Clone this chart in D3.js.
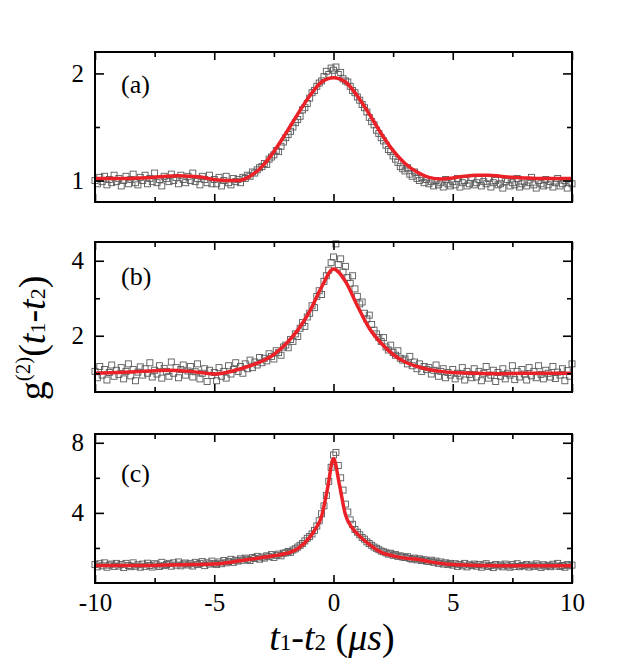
<!DOCTYPE html>
<html>
	<head>
		<meta charset="utf-8" />
		<script src="https://cdn.jsdelivr.net/npm/d3@7/dist/d3.min.js"></script>
		<title>g2</title>
		<style>
			body { margin: 0; background: #fff; }
			text { font-family: "Liberation Serif", "Times New Roman", serif; }
		</style>
	</head>
	<body>
<script>
// delay grid in us, one sample every 0.1 us
var tGrid = d3.range(-100, 101).map(function(i) { return i / 10; });

var dataA = [
	1.00, 0.97, 1.03, 0.99, 1.04, 0.96, 1.01, 0.98, 1.05, 0.99,
	1.02, 0.95, 1.00, 1.04, 0.97, 1.01, 1.06, 0.98, 0.96, 1.03,
	1.00, 1.05, 0.97, 1.02, 0.99, 1.07, 0.98, 1.01, 0.95, 1.04,
	1.02, 0.99, 1.06, 1.00, 1.03, 0.97, 1.05, 1.01, 0.98, 1.04,
	1.00, 1.07, 0.99, 1.02, 0.96, 1.04, 1.01, 0.98, 1.05, 0.97,
	1.01, 0.97, 1.03, 0.95, 1.00, 1.04, 0.98, 0.96, 1.02, 0.99,
	1.01, 0.98, 1.03, 1.02, 1.05, 1.04, 1.08, 1.07, 1.10, 1.12,
	1.13, 1.16, 1.15, 1.20, 1.22, 1.24, 1.28, 1.27, 1.32, 1.36,
	1.40, 1.43, 1.46, 1.50, 1.54, 1.57, 1.60, 1.66, 1.68, 1.72,
	1.77, 1.82, 1.84, 1.88, 1.91, 1.93, 1.97, 2.02, 1.99, 2.05,
	2.03, 2.06, 1.99, 2.01, 1.95, 1.93, 1.92, 1.88, 1.84, 1.82,
	1.78, 1.75, 1.71, 1.68, 1.64, 1.59, 1.55, 1.52, 1.47, 1.44,
	1.40, 1.37, 1.33, 1.29, 1.27, 1.23, 1.20, 1.17, 1.13, 1.11,
	1.09, 1.12, 1.06, 1.04, 1.08, 1.02, 1.00, 1.03, 0.98, 1.01,
	0.97, 0.99, 0.95, 1.00, 0.96, 0.98, 0.94, 1.01, 0.97, 0.95,
	0.99, 0.96, 1.02, 0.94, 0.98, 1.00, 0.95, 0.97, 1.03, 0.96,
	0.98, 1.01, 0.95, 0.99, 0.97, 1.02, 0.94, 0.98, 1.00, 0.96,
	0.97, 0.93, 0.99, 1.01, 0.95, 0.98, 0.96, 1.02, 0.94, 0.97,
	0.99, 0.95, 0.98, 1.03, 0.96, 0.93, 1.00, 0.97, 0.95, 1.01,
	0.96, 0.99, 0.94, 0.98, 1.02, 0.95, 0.97, 1.00, 0.93, 0.98,
	0.97
];

var dataB = [
	1.05, 0.88, 1.18, 0.95, 1.10, 0.82, 1.02, 1.22, 0.92, 1.08,
	0.97, 1.15, 0.85, 1.05, 1.25, 0.93, 1.10, 0.80, 1.03, 1.17,
	0.95, 1.12, 1.00, 1.28, 0.90, 1.08, 0.98, 1.20, 0.87, 1.13,
	1.05, 0.92, 1.30, 1.00, 1.15, 0.88, 1.10, 1.22, 0.95, 1.06,
	1.18, 0.90, 1.04, 1.25, 0.85, 1.00, 1.12, 0.78, 1.08, 0.94,
	1.02, 0.80, 1.15, 0.92, 1.05, 0.87, 1.20, 0.98, 1.10, 1.28,
	1.05, 1.18, 1.00, 1.25, 1.12, 1.35, 1.15, 1.30, 1.22, 1.42,
	1.28, 1.40, 1.33, 1.52, 1.45, 1.38, 1.60, 1.55, 1.48, 1.70,
	1.75, 1.68, 1.90, 1.85, 2.05, 1.98, 2.20, 2.35, 2.25, 2.50,
	2.60, 2.80, 2.75, 3.05, 3.20, 3.10, 3.45, 3.60, 3.75, 3.95,
	4.10, 4.45, 3.90, 4.05, 3.70, 3.85, 3.55, 3.40, 3.60, 3.25,
	3.05, 2.85, 2.90, 2.60, 2.45, 2.55, 2.30, 2.15, 2.05, 1.95,
	1.85, 1.95, 1.70, 1.62, 1.75, 1.55, 1.48, 1.60, 1.40, 1.35,
	1.38, 1.25, 1.45, 1.20, 1.30, 1.12, 1.25, 1.05, 1.18, 1.10,
	1.15, 0.98, 1.08, 1.22, 0.92, 1.05, 1.12, 0.88, 1.02, 0.95,
	1.10, 0.85, 1.00, 0.93, 1.15, 0.82, 1.05, 0.97, 0.88, 1.12,
	0.90, 1.05, 0.80, 1.00, 1.18, 0.87, 0.95, 1.08, 0.78, 1.02,
	0.92, 1.12, 0.85, 1.00, 0.95, 1.20, 0.83, 1.05, 0.90, 1.10,
	0.98, 0.82, 1.15, 0.93, 1.05, 0.88, 1.20, 0.97, 0.85, 1.08,
	1.00, 0.90, 1.18, 0.86, 1.03, 0.95, 1.12, 0.80, 1.07, 0.92,
	1.25
];

var dataC = [
	1.05, 0.92, 1.10, 0.98, 1.15, 0.90, 1.02, 1.08, 0.95, 1.12,
	0.97, 1.06, 0.88, 1.12, 1.00, 0.93, 1.15, 0.96, 1.04, 0.90,
	1.08, 0.95, 1.13, 1.00, 0.91, 1.10, 1.03, 0.94, 1.18, 0.99,
	1.05, 1.12, 0.96, 1.15, 1.02, 1.20, 0.98, 1.08, 1.14, 1.03,
	1.10, 0.97, 1.18, 1.05, 1.12, 1.22, 0.99, 1.15, 1.08, 1.25,
	1.12, 1.05, 1.20, 1.10, 1.28, 1.15, 1.22, 1.35, 1.18, 1.30,
	1.25, 1.38, 1.30, 1.42, 1.35, 1.28, 1.45, 1.40, 1.52, 1.36,
	1.48, 1.42, 1.55, 1.50, 1.62, 1.46, 1.58, 1.65, 1.55, 1.70,
	1.72, 1.80, 1.75, 1.88, 1.95, 2.05, 2.15, 2.25, 2.40, 2.55,
	2.65, 2.80, 3.00, 3.25, 3.55, 3.95, 4.40, 5.00, 5.80, 6.60,
	7.30, 7.45, 6.70, 6.00, 5.30, 4.50, 4.05, 3.60, 3.35, 3.05,
	2.90, 2.75, 2.60, 2.50, 2.35, 2.25, 2.15, 2.05, 1.98, 1.90,
	1.82, 1.78, 1.72, 1.65, 1.70, 1.58, 1.62, 1.52, 1.55, 1.48,
	1.45, 1.50, 1.40, 1.36, 1.42, 1.32, 1.38, 1.28, 1.33, 1.25,
	1.22, 1.30, 1.18, 1.25, 1.12, 1.20, 1.08, 1.15, 1.05, 1.12,
	1.02, 1.10, 0.95, 1.06, 0.98, 1.12, 0.92, 1.04, 0.99, 1.08,
	0.96, 1.05, 0.90, 1.02, 1.10, 0.94, 1.00, 0.88, 1.06, 0.97,
	1.03, 0.92, 1.08, 0.98, 0.90, 1.05, 0.95, 1.10, 0.93, 1.00,
	0.97, 1.06, 0.91, 1.02, 0.95, 1.09, 0.98, 0.89, 1.04, 0.96,
	1.01, 0.93, 1.07, 0.97, 1.12, 0.94, 1.00, 0.90, 1.05, 0.98,
	1.02
];

// fitted curves
var fitTA = [-10, -9.5, -9, -8.5, -8, -7.5, -7, -6.5, -6, -5.5, -5, -4.5, -4, -3.5, -3, -2.5, -2, -1.5, -1, -0.5, 0,
	0.5, 1, 1.5, 2, 2.5, 3, 3.5, 4, 4.5, 5, 5.5, 6, 6.5, 7, 7.5, 8, 8.5, 9, 9.5, 10];
var fitA = [1.02, 1.02, 1.02, 1.02, 1.025, 1.03, 1.04, 1.045, 1.04, 1.03, 1.01, 1.0, 1.0, 1.04, 1.13, 1.27, 1.44, 1.62, 1.79, 1.92, 1.96,
	1.92, 1.79, 1.62, 1.44, 1.28, 1.16, 1.08, 1.03, 1.015, 1.025, 1.04, 1.05, 1.05, 1.04, 1.03, 1.025, 1.02, 1.02, 1.02, 1.02];

var fitTB = [-10, -9, -8, -7, -6, -5, -4.5, -4, -3.5, -3, -2.5, -2, -1.5, -1, -0.5, 0,
	0.5, 1, 1.5, 2, 2.5, 3, 3.5, 4, 4.5, 5, 6, 7, 8, 9, 10];
var fitB = [1.0, 1.02, 1.05, 1.08, 1.05, 0.98, 1.02, 1.1, 1.2, 1.32, 1.5, 1.78, 2.15, 2.65, 3.3, 3.78,
	3.45, 2.8, 2.2, 1.8, 1.5, 1.3, 1.18, 1.1, 1.05, 1.02, 1.0, 0.99, 1.0, 1.0, 1.0];

var fitTC = [-10, -9, -8, -7, -6, -5, -4.5, -4, -3.5, -3, -2.5, -2, -1.5, -1, -0.75, -0.5, -0.25, 0,
	0.25, 0.5, 0.75, 1, 1.5, 2, 2.5, 3, 3.5, 4, 4.5, 5, 6, 7, 8, 9, 10];
var fitC = [1.0, 1.0, 1.0, 1.02, 1.05, 1.08, 1.15, 1.25, 1.35, 1.45, 1.55, 1.68, 1.95, 2.6, 3.1, 3.8, 5.4, 7.1,
	5.6, 3.9, 3.2, 2.8, 2.2, 1.75, 1.55, 1.42, 1.35, 1.22, 1.12, 1.05, 1.0, 0.99, 0.99, 0.99, 0.99];

var xTicks = [-10, -5, 0, 5, 10];
var xMinor = [-7.5, -2.5, 2.5, 7.5];

var panels = [
	{ label: "(a)", data: dataA, fitT: fitTA, fit: fitA, domain: [0.8, 2.2], top: 52, bottom: 202, ticks: [1, 2], minor: [1.5] },
	{ label: "(b)", data: dataB, fitT: fitTB, fit: fitB, domain: [0.5, 4.5], top: 242, bottom: 392, ticks: [2, 4], minor: [1, 3] },
	{ label: "(c)", data: dataC, fitT: fitTC, fit: fitC, domain: [0, 8.5], top: 434, bottom: 583, ticks: [4, 8], minor: [2, 6] }
];

var w = 642, h = 665;
var left = 95, right = 572;
var plain = function(d) { return String(d); };

var svg = d3.select("body").append("svg")
	.attr("width", w)
	.attr("height", h);

var x = d3.scaleLinear().domain([-10, 10]).range([left, right]);

panels.forEach(function(p, i) {
	var y = d3.scaleLinear().domain(p.domain).range([p.bottom, p.top]);
	var g = svg.append("g");

	// open square markers
	g.selectAll("rect.pt")
		.data(p.data)
		.enter().append("rect")
		.attr("class", "pt")
		.attr("x", function(d, j) { return x(tGrid[j]) - 3; })
		.attr("y", function(d) { return y(d) - 3; })
		.attr("width", 6)
		.attr("height", 6)
		.attr("fill", "none")
		.attr("stroke", "#5a5a5a")
		.attr("stroke-width", 0.9);

	var line = d3.line()
		.x(function(d, j) { return x(p.fitT[j]); })
		.y(function(d) { return y(d); })
		.curve(d3.curveMonotoneX);

	g.append("path")
		.datum(p.fit)
		.attr("d", line)
		.attr("fill", "none")
		.attr("stroke", "#ec2027")
		.attr("stroke-width", 3.5);

	// axes, ticks pointing inward on all four sides
	var bottomMajor = d3.axisBottom(x).tickValues(xTicks).tickSizeInner(-8).tickSizeOuter(0).tickPadding(10)
		.tickFormat(i == 2 ? plain : "");
	var bottomMinor = d3.axisBottom(x).tickValues(xMinor).tickSizeInner(-5).tickSizeOuter(0).tickFormat("");
	var topMajor = d3.axisTop(x).tickValues(xTicks).tickSizeInner(-8).tickSizeOuter(0).tickFormat("");
	var topMinor = d3.axisTop(x).tickValues(xMinor).tickSizeInner(-5).tickSizeOuter(0).tickFormat("");
	var leftMajor = d3.axisLeft(y).tickValues(p.ticks).tickSizeInner(-9).tickSizeOuter(0).tickPadding(11).tickFormat(plain);
	var leftMinor = d3.axisLeft(y).tickValues(p.minor).tickSizeInner(-5).tickSizeOuter(0).tickFormat("");
	var rightMajor = d3.axisRight(y).tickValues(p.ticks).tickSizeInner(-9).tickSizeOuter(0).tickFormat("");
	var rightMinor = d3.axisRight(y).tickValues(p.minor).tickSizeInner(-5).tickSizeOuter(0).tickFormat("");

	var ax = [
		[bottomMajor, "translate(0," + p.bottom + ")"],
		[bottomMinor, "translate(0," + p.bottom + ")"],
		[topMajor, "translate(0," + p.top + ")"],
		[topMinor, "translate(0," + p.top + ")"],
		[leftMajor, "translate(" + left + ",0)"],
		[leftMinor, "translate(" + left + ",0)"],
		[rightMajor, "translate(" + right + ",0)"],
		[rightMinor, "translate(" + right + ",0)"]
	];
	ax.forEach(function(a) {
		var ga = svg.append("g").attr("transform", a[1]).call(a[0]);
		ga.select(".domain").remove();
		ga.selectAll("line").attr("stroke", "#000").attr("stroke-width", 1.6);
		ga.selectAll("text")
			.attr("fill", "#000")
			.style("font-family", "'Liberation Serif', serif")
			.style("font-size", "25px");
	});

	svg.append("rect")
		.attr("x", left)
		.attr("y", p.top)
		.attr("width", right - left)
		.attr("height", p.bottom - p.top)
		.attr("fill", "none")
		.attr("stroke", "#000")
		.attr("stroke-width", 2);

	svg.append("text")
		.attr("x", 121)
		.attr("y", p.top + [41, 43, 48][i])
		.style("font-size", "26px")
		.text(p.label);
});

// bottom axis title
var xt = svg.append("text")
	.attr("x", 332)
	.attr("y", 650)
	.attr("text-anchor", "middle")
	.style("font-size", "38px");
xt.append("tspan").style("font-style", "italic").text("t");
xt.append("tspan").style("font-size", "23px").text("1");
xt.append("tspan").text("-");
xt.append("tspan").style("font-style", "italic").text("t");
xt.append("tspan").style("font-size", "23px").text("2");
xt.append("tspan").text(" (");
xt.append("tspan").style("font-style", "italic").text("\u03bcs");
xt.append("tspan").text(")");

// left axis title
var yt = svg.append("text")
	.attr("transform", "translate(45,338) rotate(-90)")
	.attr("text-anchor", "middle")
	.style("font-size", "38px");
yt.append("tspan").text("g");
yt.append("tspan").attr("dy", -15).style("font-size", "21px").text("(2)");
yt.append("tspan").attr("dy", 15).text("(");
yt.append("tspan").style("font-style", "italic").text("t");
yt.append("tspan").style("font-size", "22px").text("1");
yt.append("tspan").text("-");
yt.append("tspan").style("font-style", "italic").text("t");
yt.append("tspan").style("font-size", "22px").text("2");
yt.append("tspan").text(")");
</script>
	</body>
</html>
